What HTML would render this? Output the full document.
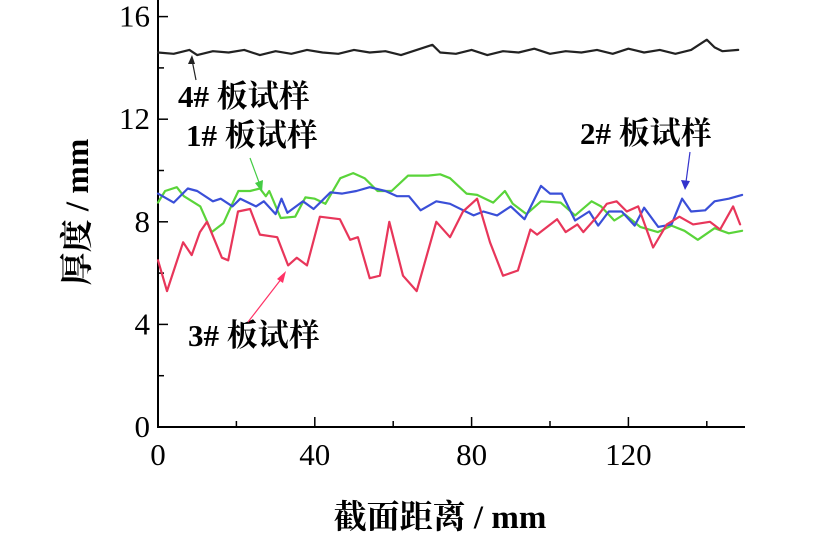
<!DOCTYPE html>
<html><head><meta charset="utf-8"><style>
html,body{margin:0;padding:0;background:#fff;}
svg{display:block;font-family:"Liberation Serif","Noto Serif CJK SC",serif;}
</style></head><body>
<svg id="chart" width="829" height="534" viewBox="0 0 829 534" xmlns="http://www.w3.org/2000/svg">
<g id="axes"></g><g id="series"></g>
<text transform="translate(88,212) rotate(-90)" text-anchor="middle" font-size="33" font-weight="bold">厚度 / mm</text>
<text x="440" y="528" text-anchor="middle" font-size="33" font-weight="bold">截面距离 / mm</text>
<g>
<text x="178" y="107" font-size="31" font-weight="bold">4# 板试样</text>
<line x1="196" y1="80" x2="192" y2="60" stroke="#222" stroke-width="1.2"/><path d="M188,64 L192,55 L195,64 Z" fill="#222"/></g>
<g>
<text x="186" y="146" font-size="31" font-weight="bold">1# 板试样</text>
<line x1="250" y1="158" x2="260" y2="185" stroke="#4c4" stroke-width="1.2"/><path d="M255,183 L262,192 L263,180 Z" fill="#4c4"/></g>
<g>
<text x="580" y="144" font-size="31" font-weight="bold">2# 板试样</text>
<line x1="690" y1="152" x2="686" y2="182" stroke="#33c" stroke-width="1.2"/><path d="M681,180 L685,190 L690,181 Z" fill="#33c"/></g>
<g>
<text x="188" y="346" font-size="31" font-weight="bold">3# 板试样</text>
<line x1="248" y1="322" x2="282" y2="278" stroke="#f36" stroke-width="1.2"/><path d="M277,279 L286,271 L283,283 Z" fill="#f36"/></g>
</svg>
<script>
const xTicks=[0,40,80,120];
const yTicks=[0,4,8,12,16];
const s1x=[0,1.8,4.8,6.6,10.8,13.7,16.7,18.8,20.5,23.5,26,27.5,28.4,31.3,35,37.6,40,42.7,46.5,49.8,52.7,56,59.6,63.8,68.9,72,74.5,78.7,81.4,85.5,88.5,90.5,94,97.7,102.7,106.4,110.6,113,116.4,119,123,127.5,131,134.3,137.7,142,145.6,149];
const s1y=[8.75,9.2,9.35,9.0,8.6,7.6,7.95,8.65,9.2,9.2,9.3,9.0,9.2,8.15,8.2,8.95,8.9,8.7,9.7,9.9,9.7,9.2,9.2,9.8,9.8,9.85,9.7,9.1,9.05,8.75,9.2,8.7,8.3,8.8,8.75,8.25,8.8,8.6,8.05,8.3,7.8,7.6,7.85,7.65,7.3,7.75,7.55,7.65];
const s2x=[0,4,7.6,10,14,16,19,21,25,27,30,31.5,33,37,39.7,44,47,50.6,54,58,61,64,67,71,74.5,80.5,83,86.5,90,93.5,97.7,100,103,106.4,110,112.3,115,118.3,121.6,124,127.6,131,133.7,136,139.6,142,145.6,149];
const s2y=[9.1,8.75,9.3,9.2,8.8,8.9,8.6,8.9,8.6,8.8,8.3,8.9,8.35,8.8,8.5,9.15,9.1,9.2,9.35,9.2,9.0,9.0,8.45,8.8,8.7,8.25,8.4,8.25,8.6,8.1,9.4,9.1,9.1,8.05,8.4,7.85,8.4,8.4,7.85,8.55,7.8,7.9,8.9,8.4,8.45,8.8,8.9,9.05];
const s3x=[0,2.3,6.4,8.6,10.7,12.5,16.3,17.9,20.4,23.5,26,30.4,33.2,35.4,38,41.3,46.4,49,51,54,56.6,59,62.5,66,71,74.5,77.8,81.4,84.7,88,91.8,95,96.7,101.8,104,107,108.5,112,114.5,117,119.6,122.5,126.3,129.8,133,136.5,140.8,143.4,146.7,148.5];
const s3y=[6.5,5.3,7.2,6.7,7.6,8.0,6.6,6.5,8.4,8.5,7.5,7.4,6.3,6.6,6.3,8.2,8.1,7.3,7.4,5.8,5.9,8.0,5.9,5.3,8.0,7.4,8.4,8.9,7.2,5.9,6.1,7.7,7.5,8.1,7.6,7.9,7.6,8.2,8.7,8.8,8.4,8.6,7.0,7.9,8.2,7.9,8.0,7.7,8.6,7.9];
const s4x=[0,4,8,10,14,18,22,26,30,34,38,42,46,50,54,58,62,66,70,72,76,80,84,88,92,96,100,104,108,112,116,120,124,128,132,136,140,142,144,148];
const s4y=[14.6,14.55,14.7,14.5,14.65,14.6,14.7,14.5,14.65,14.55,14.7,14.6,14.55,14.7,14.6,14.65,14.5,14.7,14.9,14.6,14.55,14.7,14.5,14.65,14.6,14.75,14.55,14.65,14.6,14.7,14.55,14.75,14.6,14.7,14.55,14.7,15.1,14.8,14.65,14.7];
const X=v=>158+v*3.92, Y=v=>427-v*25.65;
const NS="http://www.w3.org/2000/svg";
const axes=document.getElementById('axes'), ser=document.getElementById('series');
function mk(tag,at,parent){const e=document.createElementNS(NS,tag);for(const k in at)e.setAttribute(k,at[k]);parent.appendChild(e);return e;}
const ya=mk('line',{x1:158,y1:0,x2:158,y2:427,stroke:'#000','stroke-width':2},axes);


const xa=mk('line',{x1:157,y1:427,x2:745,y2:427,stroke:'#000','stroke-width':2},axes);


for(let v=0;v<=16;v+=2){const t=mk('line',{x1:158,x2:v%4?164:168,y1:Y(v),y2:Y(v),stroke:'#000','stroke-width':1.5},axes);

}
for(let v=0;v<=140;v+=20){const t=mk('line',{x1:X(v),x2:X(v),y1:427,y2:v%40?421:417,stroke:'#000','stroke-width':1.5},axes);

}
yTicks.forEach(v=>{const t=mk('text',{x:150,y:Y(v)+10,'text-anchor':'end','font-size':31},axes);t.textContent=v;

});
xTicks.forEach(v=>{const t=mk('text',{x:X(v),y:465,'text-anchor':'middle','font-size':31},axes);t.textContent=v;

});
function line(xs,ys,color,name){const d=xs.map((x,i)=>(i?'L':'M')+X(x).toFixed(1)+','+Y(ys[i]).toFixed(1)).join(' ');
const p=mk('path',{d:d,fill:'none',stroke:color,'stroke-width':2.2,'stroke-linejoin':'round','stroke-linecap':'round'},ser);

}
line(s4x,s4y,'#222','series-4');
line(s1x,s1y,'#5ad43a','series-1');
line(s2x,s2y,'#3a4fd8','series-2');
line(s3x,s3y,'#e8365a','series-3');
</script>
</body></html>
